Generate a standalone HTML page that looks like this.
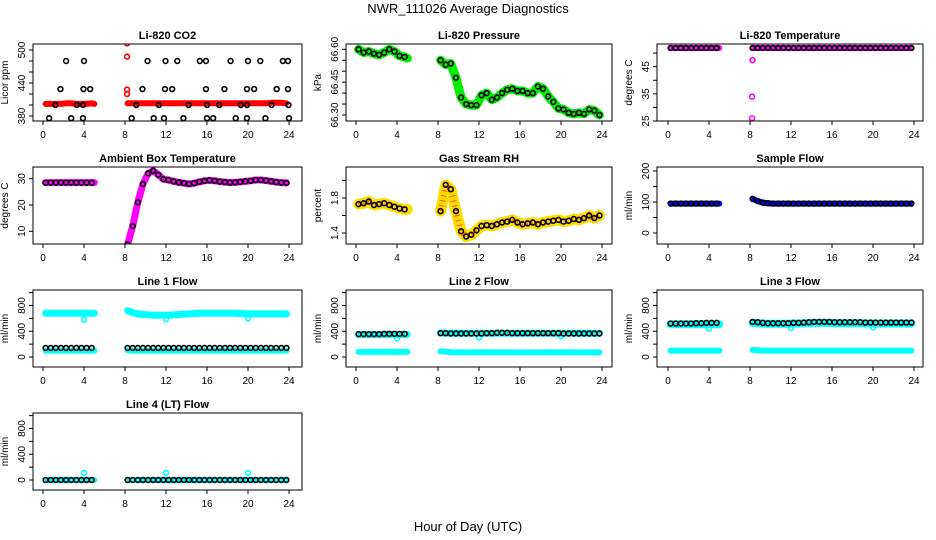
<!DOCTYPE html>
<html><head><meta charset="utf-8"><style>
body{margin:0;background:#fff}
svg{display:block;font-family:"Liberation Sans",Arial,sans-serif}
</style></head><body>
<svg id="chart" width="936" height="540" viewBox="0 0 936 540">
<text x="468" y="13" text-anchor="middle" font-size="13">NWR_111026  Average Diagnostics</text>
<text x="468" y="531" text-anchor="middle" font-size="13">Hour of Day (UTC)</text>
</svg>
<script>
// time grid (hours)
const T = [0.25,0.75,1.25,1.75,2.25,2.75,3.25,3.75,4.25,4.75,5.0,
 8.25,8.75,9.25,9.75,10.25,10.75,11.25,11.75,12.25,12.75,13.25,13.75,14.25,14.75,15.25,15.75,
 16.25,16.75,17.25,17.75,18.25,18.75,19.25,19.75,20.25,20.75,21.25,21.75,22.25,22.75,23.25,23.75];
const xTicks = [0,4,8,12,16,20,24];

const co2Red = [402,402,402,402,403,403,402,402,402,403,402,
 403,403,403,403,403,403,403,403,403,403,403,403,403,403,403,403,403,403,403,403,403,403,403,403,403,403,403,403,404,404,404,403];
const co2OutT = [8.2,8.2,8.2,8.2];
const co2OutV = [512,488,428,420];
const co2BlackT = [0.6,1.2,1.7,2.25,2.75,3.3,3.9,3.9,3.95,4.0,4.6,8.65,9.1,9.7,10.2,10.8,11.3,11.8,11.9,11.95,12.6,13.1,13.7,14.2,15.3,15.9,15.9,16.0,16.0,16.6,17.2,17.7,18.3,18.8,19.3,19.9,19.9,19.9,20.0,20.6,21.2,21.7,22.3,22.8,23.4,23.9,23.9,23.95,24.0];
const co2BlackV = [376,400,429,480,376,400,400,376,429,480,429,376,400,429,480,376,400,376,429,480,429,480,376,400,480,480,429,400,376,376,400,429,480,376,400,376,400,429,480,429,480,376,400,429,480,480,429,400,376];

const pres = [66.600,66.585,66.590,66.580,66.575,66.585,66.600,66.590,66.570,66.565,66.560,
 66.55,66.53,66.535,66.47,66.38,66.35,66.345,66.345,66.39,66.40,66.37,66.38,66.40,66.415,66.42,66.41,66.41,66.40,66.40,66.43,
 66.42,66.385,66.36,66.33,66.325,66.31,66.305,66.31,66.305,66.325,66.32,66.30];

const temp = [51.9,51.9,51.9,51.9,51.9,51.9,51.9,51.9,51.9,51.9,51.9,
 51.9,51.9,51.9,51.9,51.9,51.9,51.9,51.9,51.9,51.9,51.9,51.9,51.9,51.9,51.9,51.9,51.9,51.9,51.9,51.9,51.9,51.9,51.9,51.9,51.9,51.9,51.9,51.9,51.9,51.9,51.9,51.9];
const tempOutT = [8.25,8.2,8.2];
const tempOutV = [47.4,34,26];

const amb = [28.5,28.5,28.5,28.5,28.5,28.5,28.5,28.5,28.5,28.5,28.5,
 5,12,21,28,32,33,31.5,29.8,29.5,29.0,28.6,28.3,28.0,28.3,28.8,29.2,29.4,29.2,28.9,28.7,28.5,28.6,28.8,29.0,29.2,29.5,29.5,29.3,29.0,28.7,28.5,28.4];

const rh = [1.73,1.74,1.76,1.72,1.73,1.74,1.72,1.70,1.68,1.67,1.67,
 1.65,1.95,1.90,1.65,1.42,1.36,1.38,1.43,1.48,1.49,1.48,1.50,1.52,1.53,1.55,1.52,1.50,1.51,1.52,1.50,1.52,1.53,1.54,1.55,1.53,1.54,1.56,1.55,1.57,1.60,1.57,1.60];

const samp = [95,95,95,95,95,95,95,95,95,95,95,
 110,103,98,96,95,95,95,95,95,95,95,95,95,95,95,95,95,95,95,95,95,95,95,95,95,95,95,95,95,95,95,95];

const l1Hi = [680,680,680,680,680,680,680,680,680,680,680,
 720,690,670,660,655,650,650,650,650,655,660,665,670,675,680,680,680,680,680,680,680,680,675,670,670,670,670,670,670,670,670,670];
const l1Lo = [100,100,100,100,100,100,100,100,100,100,100,
 105,100,100,100,100,100,100,100,100,100,100,100,100,100,100,100,100,100,100,100,100,100,100,100,100,100,100,100,100,100,100,100];
const l1Blk = [140,140,140,140,140,140,140,140,140,140,140,
 140,140,140,140,140,140,140,140,140,140,140,140,140,140,140,140,140,140,140,140,140,140,140,140,140,140,140,140,140,140,140,140];
const l2Hi = [350,350,350,350,350,350,350,350,350,350,350,
 375,370,370,370,370,370,370,370,370,370,370,370,370,370,370,370,370,370,370,370,370,370,370,370,370,370,370,370,370,370,370,370];
const l2Lo = [80,80,80,80,80,80,80,80,80,80,80,
 90,85,75,72,72,72,72,72,72,72,72,72,72,72,72,72,72,72,72,72,72,72,72,72,72,72,72,72,72,72,72,72];
const l2Blk = [355,355,355,355,355,360,360,360,360,360,360,
 370,370,365,365,365,365,365,365,365,370,370,375,375,375,370,370,370,370,370,370,370,370,370,370,365,365,365,365,365,365,365,365];
const l3Hi = [510,510,510,510,510,510,510,510,510,510,510,
 530,525,520,515,515,515,515,515,520,520,525,525,530,530,530,530,525,525,525,525,525,525,520,520,520,520,520,520,520,520,520,520];
const l3Lo = [100,100,100,100,100,100,100,100,100,100,100,
 110,105,100,100,100,100,100,100,100,100,100,100,100,100,100,100,100,100,100,100,100,100,100,100,100,100,100,100,100,100,100,100];
const l3Blk = [520,520,520,520,520,525,525,530,530,530,530,
 545,540,530,525,525,525,525,525,530,530,535,540,545,545,545,545,540,540,540,540,540,540,535,535,535,535,535,535,535,535,535,535];
const l4Cy = [0,0,0,0,0,0,0,0,0,0,0,
 0,0,0,0,0,0,0,0,0,0,0,0,0,0,0,0,0,0,0,0,0,0,0,0,0,0,0,0,0,0,0,0];
const l4Blk = [0,0,0,0,0,0,0,0,0,0,0,
 0,0,0,0,0,0,0,0,0,0,0,0,0,0,0,0,0,0,0,0,0,0,0,0,0,0,0,0,0,0,0,0];
const spikeT = [4,12,20];
const l1Spk = [580,590,600];
const l2Spk = [290,300,320];
const l3Spk = [440,450,460];
const l4Spk = [110,110,110];

const NS = 'http://www.w3.org/2000/svg';
const svg = document.getElementById('chart');
const colBox = [[33,302,43],[346,612,356],[657,923,668]];
function mk(tag, attrs, parent){
  const e = document.createElementNS(NS, tag);
  for (const k in attrs) e.setAttribute(k, attrs[k]);
  (parent||svg).appendChild(e); return e;
}

function panel(o){
  const [bl, br, x0] = colBox[o.col];
  const top = 44 + 123*o.row, bot = top + 77;
  const g = mk('g', {});
  
  
  const xs = h => x0 + h*(246/24);
  const ys = v => o.y1px + top + (v - o.v1)*(o.y2px - o.y1px)/(o.v2 - o.v1);
  const cid = 'c' + o.name;
  const cp = mk('clipPath', {id: cid}, g);
  mk('rect', {x: bl, y: top, width: br-bl, height: bot-top}, cp);
  const dg = mk('g', {'clip-path': 'url(#'+cid+')'}, g);
  const t = mk('text', {x:(bl+br)/2, y: top-5, 'text-anchor':'middle', 'font-size':11, 'font-weight':'bold'}, g);
  t.textContent = o.title;
  
  
  const yl = mk('text', {x:0, y:0, 'text-anchor':'middle', 'font-size':10, transform:'translate('+(bl-25)+','+((top+bot)/2)+') rotate(-90)'}, g);
  yl.textContent = o.ylab;
  
  
  const bx = mk('rect', {x:bl, y:top, width:br-bl, height:bot-top, fill:'none', stroke:'#000', 'stroke-width':1}, g);
  
  
  mk('line', {x1:xs(0), x2:xs(24), y1:bot, y2:bot, stroke:'#000'}, g);
  xTicks.forEach(h => {
    mk('line', {x1:xs(h), x2:xs(h), y1:bot, y2:bot+4, stroke:'#000'}, g);
    const tx = mk('text', {x:xs(h), y:bot+17, 'text-anchor':'middle', 'font-size':10}, g);
    tx.textContent = h;
    
    
  });
  o.ticks.forEach(v => {
    mk('line', {x1:bl-4, x2:bl, y1:ys(v), y2:ys(v), stroke:'#000'}, g);
  });
  o.labels.forEach((lab, i) => {
    const v = o.labelVals[i];
    const ty = mk('text', {x:0, y:0, 'text-anchor':'middle', 'font-size':10, transform:'translate('+(bl-8)+','+ys(v)+') rotate(-90)'}, g);
    ty.textContent = lab;
    
    
  });
  (o.bands||[]).forEach(b => {
    let segs = [[]];
    T.forEach((h,i) => {
      if (i>0 && h - T[i-1] > 2) segs.push([]);
      segs[segs.length-1].push(xs(h).toFixed(1)+','+ys(b.v[i]).toFixed(1));
    });
    segs.forEach(s => {
      const pl = mk('polyline', {points:s.join(' '), fill:'none', stroke:b.color, 'stroke-width':b.w, 'stroke-linecap':'round', 'stroke-linejoin':'round'}, dg);
      
      
      if (b.dot) mk('polyline', {points:s.join(' '), fill:'none', stroke:b.dot, 'stroke-width':b.w-5, 'stroke-dasharray':'1 4', 'stroke-opacity':0.7}, dg);
    });
  });
  (o.outs||[]).forEach(p => {
    p.t.forEach((h,i) => {
      const c = mk('circle', {cx:xs(h), cy:ys(p.v[i]), r:2.4, fill:'none', stroke:p.color, 'stroke-width':1.6}, dg);
      
      
    });
  });
  (o.blacks||[]).forEach(b => {
    const tt = b.t || T;
    tt.forEach((h,i) => {
      if (!b.t && (i===10)) return;
      const c = mk('circle', {cx:xs(h), cy:ys(b.v[i]), r:2.4, fill:'none', stroke:'#000', 'stroke-width':1.6}, dg);
      
      
    });
  });
}

const flowTicks = [0,200,400,600,800,1000];
const flowY = {v1:0, y1px:67, v2:800, y2px:15.5, ticks:flowTicks, labels:['0','400','800'], labelVals:[0,400,800]};

panel({name:'co2-panel', col:0, row:0, title:'Li-820 CO2', ylab:'Licor ppm', v1:380, y1px:72, v2:500, y2px:6,
  ticks:[380,400,420,440,460,480,500], labels:['380','440','500'], labelVals:[380,440,500],
  bands:[{name:'co2-series', v:co2Red, color:'#ff0000', w:6}],
  outs:[{t:co2OutT, v:co2OutV, color:'#ff0000'}],
  blacks:[{t:co2BlackT, v:co2BlackV}]});
panel({name:'pressure-panel', col:1, row:0, title:'Li-820 Pressure', ylab:'kPa', v1:66.30, y1px:71, v2:66.60, y2px:5.3,
  ticks:[66.30,66.35,66.40,66.45,66.50,66.55,66.60], labels:['66.30','66.45','66.60'], labelVals:[66.30,66.45,66.60],
  bands:[{name:'pressure-series', v:pres, color:'#00ee00', w:9}],
  blacks:[{v:pres}]});
panel({name:'temperature-panel', col:2, row:0, title:'Li-820 Temperature', ylab:'degrees C', v1:25, y1px:77, v2:45, y2px:22.7,
  ticks:[25,30,35,40,45,50], labels:['25','35','45'], labelVals:[25,35,45],
  bands:[{name:'temperature-series', v:temp, color:'#ff00ff', w:6}],
  outs:[{t:tempOutT, v:tempOutV, color:'#ff00ff'}],
  blacks:[{v:temp}]});
panel({name:'ambient-panel', col:0, row:1, title:'Ambient Box Temperature', ylab:'degrees C', v1:10, y1px:64.3, v2:30, y2px:11.7,
  ticks:[10,20,30], labels:['10','20','30'], labelVals:[10,20,30],
  bands:[{name:'ambient-series', v:amb, color:'#ff00ff', w:7}],
  blacks:[{v:amb}]});
panel({name:'rh-panel', col:1, row:1, title:'Gas Stream RH', ylab:'percent', v1:1.4, y1px:66, v2:1.8, y2px:31,
  ticks:[1.4,1.6,1.8,2.0], labels:['1.4','1.8'], labelVals:[1.4,1.8],
  bands:[{name:'rh-series', v:rh, color:'#ffdd00', w:11, dot:'#ff2000'}],
  blacks:[{v:rh}]});
panel({name:'sample-flow-panel', col:2, row:1, title:'Sample Flow', ylab:'ml/min', v1:0, y1px:66, v2:200, y2px:4,
  ticks:[0,50,100,150,200], labels:['0','100','200'], labelVals:[0,100,200],
  bands:[{name:'sample-flow-series', v:samp, color:'#0000ff', w:6}],
  blacks:[{v:samp}]});
panel(Object.assign({name:'line1-panel', col:0, row:2, title:'Line 1 Flow', ylab:'ml/min',
  bands:[{name:'line1-high', v:l1Hi, color:'#00ffff', w:7},{name:'line1-low', v:l1Lo, color:'#00ffff', w:6}],
  outs:[{t:spikeT, v:l1Spk, color:'#00ffff'}], blacks:[{v:l1Blk}]}, flowY));
panel(Object.assign({name:'line2-panel', col:1, row:2, title:'Line 2 Flow', ylab:'ml/min',
  bands:[{name:'line2-high', v:l2Hi, color:'#00ffff', w:7},{name:'line2-low', v:l2Lo, color:'#00ffff', w:6}],
  outs:[{t:spikeT, v:l2Spk, color:'#00ffff'}], blacks:[{v:l2Blk}]}, flowY));
panel(Object.assign({name:'line3-panel', col:2, row:2, title:'Line 3 Flow', ylab:'ml/min',
  bands:[{name:'line3-high', v:l3Hi, color:'#00ffff', w:8},{name:'line3-low', v:l3Lo, color:'#00ffff', w:6}],
  outs:[{t:spikeT, v:l3Spk, color:'#00ffff'}], blacks:[{v:l3Blk}]}, flowY));
panel(Object.assign({name:'line4-panel', col:0, row:3, title:'Line 4 (LT) Flow', ylab:'ml/min',
  bands:[{name:'line4-series', v:l4Cy, color:'#00ffff', w:6}],
  outs:[{t:spikeT, v:l4Spk, color:'#00ffff'}], blacks:[{v:l4Blk}]}, flowY));
</script>
</body></html>
